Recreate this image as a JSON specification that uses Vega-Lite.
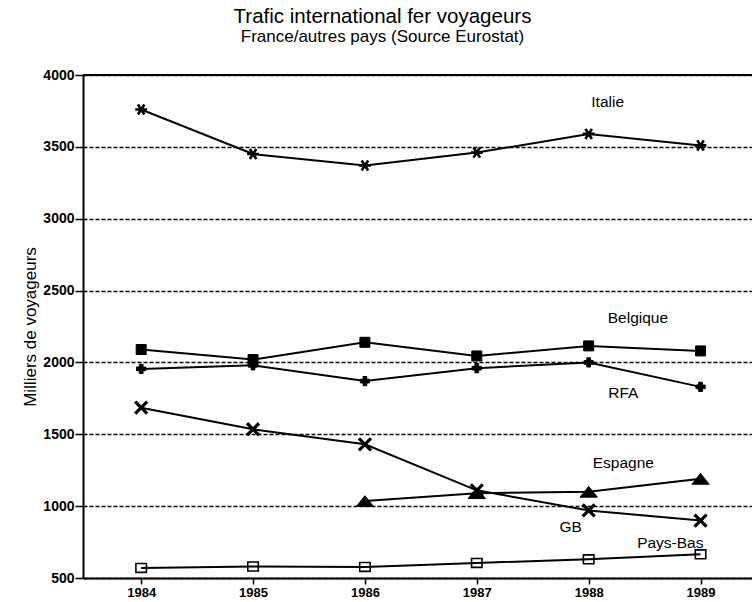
{
  "$schema": "https://vega.github.io/schema/vega-lite/v6.json",
  "autosize": "none",
  "padding": {"left": 83, "top": 75, "right": 0, "bottom": 24},
  "width": 669,
  "height": 503,
  "background": "white",
  "config": {
    "view": {"stroke": null},
    "font": "Liberation Sans",
    "axis": {"domainColor": "black", "tickColor": "black", "labelColor": "black", "titleColor": "black"}
  },
  "title": {
    "text": "Trafic international fer voyageurs",
    "subtitle": "France/autres pays (Source Eurostat)",
    "fontSize": 20.5,
    "fontWeight": "normal",
    "subtitleFontSize": 17,
    "color": "black",
    "subtitleColor": "black",
    "font": "Liberation Sans",
    "subtitleFont": "Liberation Sans",
    "anchor": "middle",
    "frame": "group",
    "dx": -35,
    "offset": 23,
    "subtitlePadding": 2
  },
  "datasets": {
    "series": [
      {"pays": "Italie", "annee": 1984, "valeur": 3760},
      {"pays": "Italie", "annee": 1985, "valeur": 3450},
      {"pays": "Italie", "annee": 1986, "valeur": 3370},
      {"pays": "Italie", "annee": 1987, "valeur": 3460},
      {"pays": "Italie", "annee": 1988, "valeur": 3590},
      {"pays": "Italie", "annee": 1989, "valeur": 3510},
      {"pays": "Belgique", "annee": 1984, "valeur": 2090},
      {"pays": "Belgique", "annee": 1985, "valeur": 2020},
      {"pays": "Belgique", "annee": 1986, "valeur": 2140},
      {"pays": "Belgique", "annee": 1987, "valeur": 2045},
      {"pays": "Belgique", "annee": 1988, "valeur": 2115},
      {"pays": "Belgique", "annee": 1989, "valeur": 2080},
      {"pays": "RFA", "annee": 1984, "valeur": 1955},
      {"pays": "RFA", "annee": 1985, "valeur": 1980},
      {"pays": "RFA", "annee": 1986, "valeur": 1870},
      {"pays": "RFA", "annee": 1987, "valeur": 1960},
      {"pays": "RFA", "annee": 1988, "valeur": 2000},
      {"pays": "RFA", "annee": 1989, "valeur": 1830},
      {"pays": "GB", "annee": 1984, "valeur": 1685},
      {"pays": "GB", "annee": 1985, "valeur": 1535},
      {"pays": "GB", "annee": 1986, "valeur": 1430},
      {"pays": "GB", "annee": 1987, "valeur": 1110},
      {"pays": "GB", "annee": 1988, "valeur": 970},
      {"pays": "GB", "annee": 1989, "valeur": 900},
      {"pays": "Espagne", "annee": 1986, "valeur": 1035},
      {"pays": "Espagne", "annee": 1987, "valeur": 1090},
      {"pays": "Espagne", "annee": 1988, "valeur": 1100},
      {"pays": "Espagne", "annee": 1989, "valeur": 1190},
      {"pays": "Pays-Bas", "annee": 1984, "valeur": 570},
      {"pays": "Pays-Bas", "annee": 1985, "valeur": 580},
      {"pays": "Pays-Bas", "annee": 1986, "valeur": 577},
      {"pays": "Pays-Bas", "annee": 1987, "valeur": 605},
      {"pays": "Pays-Bas", "annee": 1988, "valeur": 630},
      {"pays": "Pays-Bas", "annee": 1989, "valeur": 665}
    ],
    "labels": [
      {"label": "Italie", "annee": 1988.17, "valeur": 3810},
      {"label": "Belgique", "annee": 1988.44, "valeur": 2308},
      {"label": "RFA", "annee": 1988.31, "valeur": 1786},
      {"label": "Espagne", "annee": 1988.31, "valeur": 1300},
      {"label": "GB", "annee": 1987.84, "valeur": 852},
      {"label": "Pays-Bas", "annee": 1988.73, "valeur": 745}
    ],
    "top": [{"valeur": 4000}]
  },
  "layer": [
    {
      "data": {"name": "series"},
      "mark": {"type": "point", "opacity": 0},
      "encoding": {
        "x": {
          "field": "annee", "type": "quantitative",
          "scale": {"domain": [1983.48, 1989.46], "nice": false, "zero": false},
          "axis": {
            "values": [1984, 1985, 1986, 1987, 1988, 1989], "format": "d", "title": null,
            "grid": false, "domainWidth": 2, "tickSize": 6, "tickWidth": 1.5,
            "labelFontSize": 13, "labelPadding": 2, "labelFont": "Liberation Sans", "labelFontWeight": "bold"
          }
        },
        "y": {
          "field": "valeur", "type": "quantitative",
          "scale": {"domain": [500, 4000], "nice": false, "zero": false},
          "axis": {
            "values": [500, 1000, 1500, 2000, 2500, 3000, 3500, 4000],
            "format": "d",
            "title": "Milliers de voyageurs",
            "titleFontSize": 17, "titleFontWeight": "normal", "titleFont": "Liberation Sans",
            "titleX": -53, "titleY": 251.5, "titleAngle": 270, "titleAlign": "center", "titleBaseline": "middle",
            "grid": true, "gridDash": [4, 2], "gridColor": "black", "gridWidth": 1.5, "gridOpacity": 1,
            "domainWidth": 2, "tickSize": 8, "tickWidth": 1.5,
            "labelFontSize": 14, "labelPadding": 1, "labelFont": "Liberation Sans", "labelFontWeight": "bold"
          }
        }
      }
    },
    {
      "data": {"name": "top"},
      "mark": {"type": "rule", "color": "black", "strokeWidth": 2},
      "encoding": {"y": {"field": "valeur", "type": "quantitative"}}
    },
    {
      "data": {"name": "series"},
      "transform": [{"filter": "datum.pays === 'Italie'"}],
      "mark": {"type": "point", "shape": "M-1,0L1,0M-0.55,-0.85L0.55,0.85M-0.55,0.85L0.55,-0.85", "size": 140, "stroke": "black", "strokeWidth": 2.6, "filled": false, "opacity": 1},
      "encoding": {"x": {"field": "annee", "type": "quantitative"}, "y": {"field": "valeur", "type": "quantitative"}}
    },
    {
      "data": {"name": "series"},
      "transform": [{"filter": "datum.pays === 'GB'"}],
      "mark": {"type": "point", "shape": "M-1,-1L1,1M-1,1L1,-1", "size": 144, "stroke": "black", "strokeWidth": 3.2, "filled": false, "opacity": 1},
      "encoding": {"x": {"field": "annee", "type": "quantitative"}, "y": {"field": "valeur", "type": "quantitative"}}
    },
    {
      "data": {"name": "series"},
      "transform": [{"filter": "datum.pays === 'Belgique'"}],
      "mark": {"type": "point", "shape": "square", "size": 100, "fill": "black", "stroke": "black", "strokeWidth": 1, "filled": true, "opacity": 1},
      "encoding": {"x": {"field": "annee", "type": "quantitative"}, "y": {"field": "valeur", "type": "quantitative"}}
    },
    {
      "data": {"name": "series"},
      "transform": [{"filter": "datum.pays === 'RFA'"}],
      "mark": {"type": "point", "shape": "cross", "size": 85, "fill": "black", "stroke": "black", "strokeWidth": 1, "filled": true, "opacity": 1},
      "encoding": {"x": {"field": "annee", "type": "quantitative"}, "y": {"field": "valeur", "type": "quantitative"}}
    },
    {
      "data": {"name": "series"},
      "transform": [{"filter": "datum.pays === 'Espagne'"}],
      "mark": {"type": "point", "shape": "M0,-0.62L1,0.62L-1,0.62Z", "size": 300, "fill": "black", "stroke": "black", "strokeWidth": 1, "filled": true, "opacity": 1},
      "encoding": {"x": {"field": "annee", "type": "quantitative"}, "y": {"field": "valeur", "type": "quantitative"}}
    },
    {
      "data": {"name": "series"},
      "transform": [{"filter": "datum.pays === 'Pays-Bas'"}],
      "mark": {"type": "point", "shape": "M-1,-0.85L1,-0.85L1,0.85L-1,0.85Z", "size": 110, "fill": "white", "stroke": "black", "strokeWidth": 1.6, "filled": false, "opacity": 1},
      "encoding": {"x": {"field": "annee", "type": "quantitative"}, "y": {"field": "valeur", "type": "quantitative"}}
    },
    {
      "data": {"name": "series"},
      "mark": {"type": "line", "color": "black", "strokeWidth": 2},
      "encoding": {
        "x": {"field": "annee", "type": "quantitative"},
        "y": {"field": "valeur", "type": "quantitative"},
        "detail": {"field": "pays", "type": "nominal"}
      }
    },
    {
      "data": {"name": "labels"},
      "mark": {"type": "text", "fontSize": 15.5, "color": "black", "align": "center", "baseline": "middle", "font": "Liberation Sans"},
      "encoding": {
        "x": {"field": "annee", "type": "quantitative"},
        "y": {"field": "valeur", "type": "quantitative"},
        "text": {"field": "label", "type": "nominal"}
      }
    }
  ]
}
